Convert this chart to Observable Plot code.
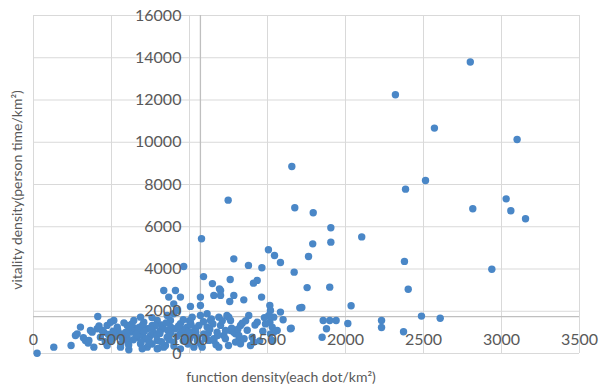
<!DOCTYPE html>
<html>
<head>
<meta charset="utf-8">
<script src="https://cdn.jsdelivr.net/npm/d3@7"></script>
<script src="https://cdn.jsdelivr.net/npm/@observablehq/plot@0.6"></script>
<style>
  html, body { margin: 0; padding: 0; background: #fff; }
  svg { display: block; }
</style>
</head>
<body>
<div id="chart"></div>
<script>
const xTicks = [0, 500, 1000, 1500, 2000, 2500, 3000, 3500];
const yTicks = [0, 2000, 4000, 6000, 8000, 10000, 12000, 14000, 16000];
const xCross = 1070;  // value of x where the vertical axis crosses
const yCross = 1750;  // value of y where the horizontal axis crosses
const xTitle = "function density(each dot/km²)";
const yTitle = "vitality density(person time/km²)";

// function density (each dot/km²)
const funcDensity = [
  2800, 2320, 2570, 3100, 2513, 2385, 3030, 2816, 3060, 3154,
  2104, 2378, 2938, 2402, 2036, 2487, 2607, 2231, 2231, 2372,
  1656, 1248, 1675, 1793, 1906, 1077, 1906, 1790, 1506, 1545,
  1763, 1284, 1583, 1378, 1464, 963, 1671, 1090, 1261, 1434,
  1410, 1147, 1192, 1754, 1899, 835, 910, 1720, 1857, 1899,
  1940, 2015, 1878, 1850, 1652, 867, 942, 899, 1199, 1156,
  1199, 1070, 1006, 1070, 1258, 1284, 1348, 1462, 1515, 1519,
  1583, 1707, 1540, 1515, 1647, 1530, 1540, 1402, 1412, 1380,
  1434, 1327, 1295, 1316, 1263, 1220, 1177, 1188, 1252, 1135,
  1113, 1070, 1017, 1006, 985, 1017, 1060, 1092, 1113, 1124,
  1049, 942, 910, 942, 878, 899, 921, 857, 793, 761,
  814, 857, 899, 846, 793, 750, 729, 707, 686, 643,
  601, 633, 665, 686, 601, 558, 537, 515, 472, 451,
  494, 429, 408, 376, 333, 387, 558, 729, 793, 1028,
  1070, 1156, 1188, 1295, 1327, 1391, 412, 301, 280, 365,
  355, 440, 494, 515, 472, 130, 241, 23, 611, 697,
  835, 942, 269, 1508, 1140, 1240, 1263, 1338, 1199, 1231,
  1284, 1316, 1120, 1156, 1519, 1530, 1562, 1081, 1487,
  560, 620, 680, 740, 770, 820, 880, 960, 990, 1040,
  580, 650, 700, 760, 820, 880, 920, 980, 1030, 1090,
  530, 590, 640, 700, 760, 830, 870, 950, 1000, 1050,
  480, 540, 600, 670, 720, 790, 850, 900, 960, 1010,
  1150, 1180, 1230, 1270, 1350, 1450, 1470, 1600, 1480, 1360,
  320, 350, 420, 460, 510, 570, 610, 660, 710, 740,
  780, 810, 870, 930, 980, 1040, 1100, 1210, 1250, 1370,
  630, 690, 750, 800, 860, 1000, 1130, 1170, 1310, 1420
];

// vitality density (person time/km²)
const vitalityDensity = [
  13800, 12250, 10670, 10130, 8190, 7780, 7320, 6850, 6760, 6380,
  5520, 4360, 3990, 3040, 2260, 1770, 1670, 1560, 1230, 1030,
  8850, 7260, 6900, 6660, 5950, 5430, 5270, 5190, 4910, 4640,
  4590, 4480, 4310, 4170, 4060, 4120, 3850, 3640, 3500, 3460,
  3330, 3310, 3060, 3120, 3140, 2980, 2980, 2180, 1560, 1560,
  1560, 1420, 1170, 770, 1200, 2670, 2670, 2350, 2980, 2750,
  2750, 2670, 2230, 2270, 2460, 2750, 2540, 2670, 2270, 2040,
  1960, 2160, 1720, 1480, 1170, 1250, 1010, 770, 540, 1800,
  1480, 1330, 930, 620, 1090, 850, 1010, 1720, 1720, 1560,
  1880, 1800, 1720, 1480, 1250, 1010, 1330, 930, 1250, 620,
  770, 930, 1170, 1410, 1560, 1880, 2040, 1800, 1560, 1330,
  1090, 770, 540, 380, 620, 850, 1170, 1480, 1720, 1560,
  1330, 1010, 770, 460, 620, 930, 1250, 1560, 1330, 1010,
  620, 770, 1170, 1010, 620, 300, 300, 300, 220, 300,
  460, 620, 300, 540, 460, 380, 1750, 1250, 930, 1090,
  615, 1090, 1480, 770, 380, 300, 380, 15, 175, 220,
  300, 220, 850, 1800, 1640, 1800, 1560, 1430, 1330, 1090,
  1010, 850, 960, 700, 930, 615, 1090, 300, 1400,
  450, 1100, 1250, 620, 1000, 1350, 1000, 600, 450, 1200,
  1450, 1200, 850, 450, 560, 1250, 820, 1050, 880, 1500,
  850, 1000, 650, 1350, 1700, 1200, 650, 1150, 700, 600,
  900, 1100, 780, 1100, 700, 850, 1450, 350, 1600, 1350,
  1400, 850, 700, 1200, 700, 600, 1050, 1600, 1700, 1550,
  750, 500, 1300, 560, 1050, 720, 400, 900, 1050, 500,
  1300, 950, 870, 1300, 800, 1000, 700, 1550, 380, 1100,
  1400, 550, 1200, 250, 1100, 1550, 1150, 420, 1150, 1350
];

const points = funcDensity.map((x, i) => ({x, y: vitalityDensity[i]}));

const font = "Lato, 'Open Sans', sans-serif";
const textColor = "#595959";

const chart = Plot.plot({
  width: 605,
  height: 387,
  marginLeft: 33,
  marginRight: 26,
  marginTop: 15,
  marginBottom: 34,
  x: {domain: [0, 3500], axis: null},
  y: {domain: [0, 16000], axis: null},
  style: {fontFamily: font, background: "#fff"},
  marks: [
    Plot.ruleX(xTicks, {x: d => d, stroke: "#d9d9d9", strokeWidth: 1}),
    Plot.ruleY(yTicks, {y: d => d, stroke: "#d9d9d9", strokeWidth: 1}),
    Plot.ruleX([xCross], {x: d => d, stroke: "#bfbfbf", strokeWidth: 1.3}),
    Plot.ruleY([yCross], {y: d => d, stroke: "#bfbfbf", strokeWidth: 1.3}),
    Plot.dot(points, {x: "x", y: "y", r: 3.7, fill: "#4a87c7", stroke: "none"}),
    Plot.text(yTicks, {
      x: () => xCross, y: d => d, text: d => String(d),
      dx: -19, textAnchor: "end", fill: textColor, fontSize: 16
    }),
    Plot.text(xTicks, {
      x: d => d, y: () => yCross, text: d => String(d),
      dy: 23, fill: textColor, fontSize: 16
    })
  ]
});

const svg = d3.select(chart);
svg.append("text")
  .attr("x", 281).attr("y", 382)
  .attr("text-anchor", "middle")
  .attr("fill", textColor)
  .attr("font-family", font)
  .attr("font-size", 14)
  .text(xTitle);
svg.append("text")
  .attr("transform", "translate(22,190) rotate(-90)")
  .attr("text-anchor", "middle")
  .attr("fill", textColor)
  .attr("font-family", font)
  .attr("font-size", 14)
  .text(yTitle);

document.getElementById("chart").appendChild(chart);
</script>
</body>
</html>
